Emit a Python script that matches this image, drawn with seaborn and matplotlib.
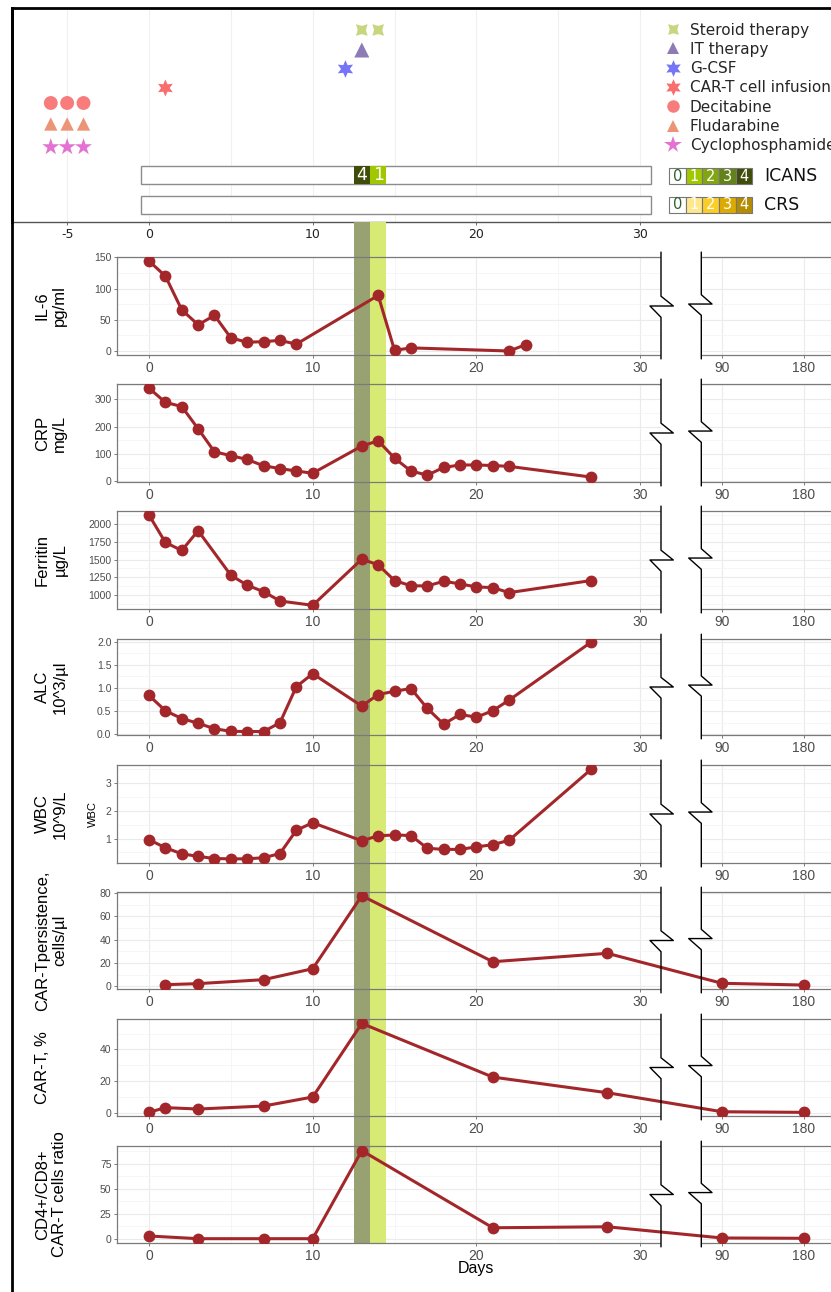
import numpy as np
import matplotlib
matplotlib.use("Agg")
import matplotlib.pyplot as plt
import matplotlib.transforms as mtransforms
from matplotlib.patches import Rectangle
from matplotlib.lines import Line2D
import seaborn as sns

# ---- data -------------------------------------------------------------
il6_days = [0, 1, 2, 3, 4, 5, 6, 7, 8, 9, 14, 15, 16, 22, 23]
il6 = [144, 120, 66, 42, 57, 21, 14, 15, 17, 11, 89, 1, 5, 0, 10]

crp_days = [0, 1, 2, 3, 4, 5, 6, 7, 8, 9, 10, 13, 14, 15, 16, 17, 18, 19, 20, 21, 22, 27]
crp = [340, 288, 273, 192, 108, 94, 80, 57, 47, 38, 30, 129, 148, 85, 38, 23, 51, 60, 60, 58, 55, 16]

ferritin_days = [0, 1, 2, 3, 5, 6, 7, 8, 10, 13, 14, 15, 16, 17, 18, 19, 20, 21, 22, 27]
ferritin = [2127, 1741, 1627, 1906, 1278, 1137, 1047, 915, 854, 1505, 1425, 1203, 1130,
            1127, 1193, 1156, 1113, 1104, 1033, 1203]

blood_days = [0, 1, 2, 3, 4, 5, 6, 7, 8, 9, 10, 13, 14, 15, 16, 17, 18, 19, 20, 21, 22, 27]
alc = [0.84, 0.51, 0.34, 0.24, 0.12, 0.065, 0.06, 0.06, 0.25, 1.03, 1.31, 0.61, 0.86, 0.93,
       0.99, 0.56, 0.22, 0.43, 0.37, 0.51, 0.74, 1.99]
wbc = [0.96, 0.67, 0.45, 0.36, 0.28, 0.27, 0.27, 0.31, 0.46, 1.30, 1.57, 0.92, 1.10, 1.13,
       1.11, 0.65, 0.61, 0.61, 0.70, 0.78, 0.94, 3.49]

persist_days = [1, 3, 7, 10, 13, 21, 28, 90, 180]
persist = [1.4, 2.3, 5.7, 15.1, 77.7, 21.1, 28.3, 2.6, 1.1]

cart_pct_days = [0, 1, 3, 7, 10, 13, 21, 28, 90, 180]
cart_pct = [0.2, 3.2, 2.3, 4.2, 9.9, 56.4, 22.5, 12.6, 0.6, 0.2]

ratio_days = [0, 3, 7, 10, 13, 21, 28, 90, 180]
ratio = [3.0, 0.3, 0.3, 0.3, 88.2, 11.2, 12.2, 1.0, 0.7]

drug_names = ["Steroid therapy", "IT therapy", "G-CSF", "CAR-T cell infusion",
              "Decitabine", "Fludarabine", "Cyclophosphamide"]
drug_days = [[13, 14], [13], [12], [1], [-6, -5, -4], [-6, -5, -4], [-6, -5, -4]]

icans_days = [13, 14]
icans_grades = [4, 1]
grades = [0, 1, 2, 3, 4]

xtick_days = [0, 10, 20, 30, 90, 180]

# ---- styling -------------------------------------------------------------
drug_colors = ["#c6d77f", "#8d7bb6", "#7575f7", "#f86e6e", "#f87c7c", "#ec9576", "#e472d2"]
drug_markers = [(4, 1, 45), "^", (6, 1, 0), (6, 1, 0), "o", "^", "*"]
drug_sizes = [140, 117, 160, 150, 100, 92, 165]
drug_rows = [192, 172, 153, 134, 119, 98, 75]   # vertical slot of each row in the top panel

icans_colors = ["#ffffff", "#9fc800", "#82a514", "#64821a", "#3e4e0a"]
crs_colors = ["#ffffff", "#ffe88c", "#facd28", "#dcaa00", "#b48c00"]
band_colors = {4: "#97a171", 1: "#d7eb74"}
LINE_RED = "#a3272a"

sns.set_style("white")
plt.rcParams["font.family"] = ["Liberation Sans", "DejaVu Sans"]
plt.rcParams["axes.unicode_minus"] = False

W, H = 831, 1292
DAY0_PX, PX_PER_DAY = 149, 16.37


def to_axis(d):
    # broken x axis: linear up to day 30, then 90 and 180 squeezed in
    d = np.asarray(d, dtype=float)
    return np.where(d > 60, 35 + (d - 90) / 18, d)


def px_to_t(px):
    return (px - DAY0_PX) / PX_PER_DAY


def box(x0, y0, x1, y1):
    return [x0 / W, 1 - y1 / H, (x1 - x0) / W, (y1 - y0) / H]


fig = plt.figure(figsize=(W / 100, H / 100), dpi=100)

# ---- top panel: treatments + ICANS / CRS ------------------------------------
top_ax = fig.add_axes(box(12, 8, 831, 222))
top_ax.set_xlim(px_to_t(12), px_to_t(831))
top_ax.set_ylim(0, 214)
for name, days, row, col, mk, s in zip(drug_names, drug_days, drug_rows,
                                        drug_colors, drug_markers, drug_sizes):
    sns.scatterplot(x=days, y=[row] * len(days), marker=mk, s=s, color=col,
                    edgecolor="none", linewidth=0, ax=top_ax, legend=False, zorder=3)

handles = [Line2D([], [], ls="", marker=mk, color=col, markeredgewidth=0,
                  markersize=ms)
           for mk, col, ms in zip(drug_markers, drug_colors, [11, 9, 12, 12, 9, 9, 13])]
fig.legend(handles, drug_names, loc="upper left", bbox_to_anchor=(665.4 / W, 1 - 22.5 / H),
           frameon=False, prop={"family": "DejaVu Sans", "size": 11},
           handlelength=1.0, handletextpad=0.6, labelspacing=0.28, borderpad=0,
           borderaxespad=0)

# ICANS and CRS timelines
for y0 in (38, 8):
    top_ax.add_patch(Rectangle((-0.5, y0), 31.15, 18.5, facecolor="white",
                               edgecolor="#8c8c8c", lw=1, zorder=2))
top_ax.bar(icans_days, 18.5, bottom=38, width=1.0, align="center",
           color=[icans_colors[g] for g in icans_grades], lw=0, zorder=3)
for d, g in zip(icans_days, icans_grades):
    top_ax.text(d, 47.2, str(g), color="white", ha="center", va="center",
                fontsize=12.5, family="DejaVu Sans", zorder=4)

# grade scales
scale_x = [px_to_t(669) + 0.51 + 1.02 * g for g in grades]
for y0, cols, name in ((37.7, icans_colors, "ICANS"), (9.3, crs_colors, "CRS")):
    top_ax.bar(scale_x, 16, bottom=y0, width=1.02, color=cols, edgecolor="#777777",
               lw=0.8, zorder=3)
    for x, g in zip(scale_x, grades):
        top_ax.text(x, y0 + 8, str(g), color="#2f5f2f" if g == 0 else "white",
                    ha="center", va="center", fontsize=10.5, family="DejaVu Sans", zorder=4)
    top_ax.text(px_to_t(764), y0 + 8, name, ha="left", va="center", fontsize=12.5,
                family="DejaVu Sans", color="#111111")

top_ax.set_xticks([-5, 0, 10, 20, 30])
top_ax.set_xticklabels(["-5", "0", "10", "20", "30"], family="DejaVu Sans", fontsize=9,
                       color="#222222")
top_ax.set_xticks([5, 15, 25], minor=True)
top_ax.set_yticks([])
top_ax.grid(axis="x", which="both", color="#f0f0f0", lw=0.8)
top_ax.tick_params(axis="x", which="major", length=2, width=0.6, color="#555555", pad=2,
                   bottom=True)
top_ax.tick_params(axis="x", which="minor", length=0)
for side in ("left", "top"):
    top_ax.spines[side].set_color("black")
    top_ax.spines[side].set_linewidth(2)
top_ax.spines["bottom"].set_color("#555555")
top_ax.spines["bottom"].set_linewidth(1)
top_ax.spines["right"].set_visible(False)

# left frame line continuing down the figure
fig.add_artist(Line2D([12 / W, 12 / W], [0, 1 - 8 / H], color="black", lw=2))

# ---- lower panels ------------------------------------------------------------
xlim = (px_to_t(117), px_to_t(831))

# toxicity bands running through the gaps between panels
band_ax = fig.add_axes(box(117, 222, 831, 1243), zorder=0)
band_ax.set_xlim(xlim)
band_ax.set_ylim(0, 1)
band_ax.axis("off")
for d, g in zip(icans_days, icans_grades):
    band_ax.axvspan(d - 0.5, d + 0.5, color=band_colors[g], lw=0)

panels = [
    ("IL-6\npg/ml", il6_days, il6, [0, 50, 100, 150], ["0", "50", "100", "150"], (-6.4, 150.5)),
    ("CRP\nmg/L", crp_days, crp, [0, 100, 200, 300], ["0", "100", "200", "300"], (-2, 355)),
    ("Ferritin\nµg/L", ferritin_days, ferritin, [1000, 1250, 1500, 1750, 2000],
     ["1000", "1250", "1500", "1750", "2000"], (802, 2184)),
    ("ALC\n10^3/µl", blood_days, alc, [0, 0.5, 1.0, 1.5, 2.0],
     ["0.0", "0.5", "1.0", "1.5", "2.0"], (-0.015, 2.06)),
    ("WBC\n10^9/L", blood_days, wbc, [1, 2, 3], ["1", "2", "3"], (0.12, 3.65)),
    ("CAR-Tpersistence,\ncells/µl", persist_days, persist, [0, 20, 40, 60, 80],
     ["0", "20", "40", "60", "80"], (-2.3, 80.9)),
    ("CAR-T, %", cart_pct_days, cart_pct, [0, 20, 40], ["0", "20", "40"], (-2.1, 59.2)),
    ("CD4+/CD8+\nCAR-T cells ratio", ratio_days, ratio, [0, 25, 50, 75],
     ["0", "25", "50", "75"], (-4, 92.8)),
]
panel_tops = [257, 384, 511, 639, 765, 892, 1019, 1146]
panel_bottoms = [355, 482, 609, 735, 863, 989, 1116, 1243]

BREAK_L, BREAK_R = px_to_t(661), px_to_t(701.3)

for (label, days, vals, yt, ytl, ylim), top, bot in zip(panels, panel_tops, panel_bottoms):
    ax = fig.add_axes(box(117, top, 831, bot), zorder=1)
    ax.set_facecolor("none")
    # band again inside the panel so it sits over the grid but under the data
    for d, g in zip(icans_days, icans_grades):
        ax.axvspan(d - 0.5, d + 0.5, color=band_colors[g], lw=0, zorder=1)
    sns.lineplot(x=to_axis(days), y=vals, ax=ax, color=LINE_RED, linewidth=2.2,
                 marker="o", markersize=8.5, markeredgewidth=0, zorder=3)
    ax.set_xlim(xlim)
    ax.set_ylim(ylim)
    ax.set_xticks(to_axis(xtick_days))
    ax.set_xticklabels([str(d) for d in xtick_days], fontsize=10, color="#4d4d4d")
    ax.set_xticks([5, 15, 25], minor=True)
    ax.set_yticks(yt)
    ax.set_yticklabels(ytl, fontsize=7.5, color="#4d4d4d")
    step = yt[1] - yt[0]
    ax.set_yticks([v + step / 2 for v in [yt[0] - step] + yt
                   if ylim[0] < v + step / 2 < ylim[1]], minor=True)
    ax.set_xlabel("")
    ax.set_ylabel("")
    ax.grid(which="major", color="#ebebeb", lw=0.8)
    ax.grid(which="minor", color="#f3f3f3", lw=0.5)
    ax.set_axisbelow(True)
    ax.tick_params(which="major", length=2.5, width=0.6, color="#666666", pad=1.5,
                   left=True, bottom=True)
    ax.tick_params(which="minor", length=0)
    for side in ("left", "top", "bottom"):
        ax.spines[side].set_color("#7a7a7a")
        ax.spines[side].set_linewidth(0.9)
    ax.spines["right"].set_visible(False)

    # axis break
    trans = mtransforms.blended_transform_factory(ax.transData, ax.transAxes)
    ax.add_patch(Rectangle((BREAK_L, -0.02), BREAK_R - BREAK_L, 1.04, transform=trans,
                           facecolor="white", edgecolor="none", zorder=2.7, clip_on=False))
    ax.plot([BREAK_L, BREAK_L, px_to_t(673.3), px_to_t(650), BREAK_L, BREAK_L],
            [1.05, 0.6, 0.5, 0.5, 0.385, -0.04], transform=trans, color="black",
            lw=1, clip_on=False, zorder=5)
    ax.plot([BREAK_R, BREAK_R, px_to_t(712), px_to_t(688.7), BREAK_R, BREAK_R],
            [1.05, 0.615, 0.52, 0.52, 0.405, -0.04], transform=trans, color="black",
            lw=1, clip_on=False, zorder=5)

    fig.text(35 / W, 1 - (top + bot) / 2 / H, label, rotation=90, ha="left", va="center",
             multialignment="center", fontsize=12, color="black")

# small inner axis title of the WBC panel
fig.text(92.5 / W, 1 - 814 / H, "WBC", rotation=90, ha="center", va="center",
         fontsize=8, color="black")

fig.text(476 / W, 1 - 1268 / H, "Days", ha="center", va="center", fontsize=11.5,
         color="black")

fig.savefig("out.png", dpi=100)
